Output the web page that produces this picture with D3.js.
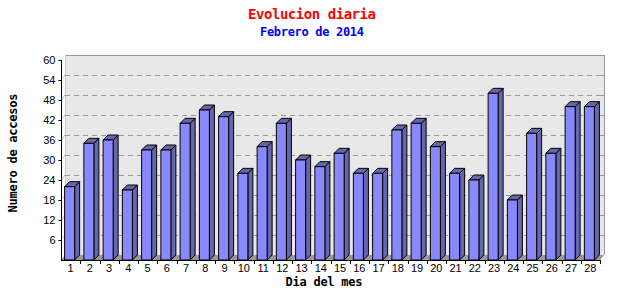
<!DOCTYPE html>
<html>
<head>
<meta charset="utf-8">
<script src="https://cdn.jsdelivr.net/npm/d3@7"></script>
<style>
  body { margin: 0; background: #fff; }
  svg { display: block; }
</style>
</head>
<body>
<div id="chart"></div>
<script>
var days = ["1","2","3","4","5","6","7","8","9","10","11","12","13","14",
            "15","16","17","18","19","20","21","22","23","24","25","26","27","28"];
var accesos = [22, 35, 36, 21, 33, 33, 41, 45, 43, 26, 34, 41, 30, 28,
               32, 26, 26, 39, 41, 34, 26, 24, 50, 18, 38, 32, 46, 46];
var yTicks = [6, 12, 18, 24, 30, 36, 42, 48, 54, 60];

var width = 640, height = 300;
var dx = 4, dy = 5; // depth of the 3d plane

var svg = d3.select("#chart")
            .append("svg")
            .attr("width", width)
            .attr("height", height);

var x = d3.scaleBand()
          .domain(days)
          .range([61, 600])
          .paddingInner(0.48)
          .paddingOuter(0.24);

var y = d3.scaleLinear()
          .domain([0, 60])
          .range([260, 60]);

var mono = "'DejaVu Sans Mono', monospace";

// back plane
svg.append("rect")
   .attr("x", x.range()[0] + dx)
   .attr("y", y(60) - dy)
   .attr("width", x.range()[1] - x.range()[0])
   .attr("height", y(0) - y(60))
   .attr("fill", "#e8e8e8");

svg.append("path")
   .attr("d", "M" + (61 + dx) + "," + (y(0) - dy) + "V" + (y(60) - dy) + "H" + (600 + dx) + "V" + (y(0) - dy))
   .attr("fill", "none")
   .attr("stroke", "#999")
   .attr("shape-rendering", "crispEdges");

svg.append("line")
   .attr("x1", 61 + dx).attr("x2", 61 + dx)
   .attr("y1", y(60) - dy).attr("y2", y(0) - dy)
   .attr("stroke", "#c8c8c8")
   .attr("shape-rendering", "crispEdges");

// floor
svg.append("path")
   .attr("d", "M61," + y(0) + "L" + (61 + dx) + "," + (y(0) - dy) + "H" + (600 + dx) + "L600," + y(0) + "Z")
   .attr("fill", "#999");

// grid lines on the back plane
yTicks.filter(function (v) { return v < 60; }).forEach(function (v) {
  svg.append("line")
     .attr("x1", 61 + dx).attr("x2", 600 + dx)
     .attr("y1", y(v) - dy + 0.5).attr("y2", y(v) - dy + 0.5)
     .attr("stroke", "#999")
     .attr("stroke-dasharray", "5,4");
  svg.append("line")
     .attr("x1", 61).attr("x2", 61 + dx)
     .attr("y1", y(v)).attr("y2", y(v) - dy)
     .attr("stroke", "#b8b8b8");
  svg.append("line")
     .attr("x1", 600 + dx - 3).attr("x2", 600 + dx)
     .attr("y1", y(v) - dy + 0.5).attr("y2", y(v) - dy + 0.5)
     .attr("stroke", "#999");
});

// bars
var bw = x.bandwidth();
accesos.forEach(function (v, i) {
  var x0 = x(days[i]) - 1, x1 = x0 + bw, yt = y(v), yb = y(0);
  var g = svg.append("g")
             .attr("stroke", "#000")
             .attr("stroke-width", 1)
             .attr("stroke-linejoin", "round");
  // side
  g.append("path")
   .attr("d", "M" + x1 + "," + yb + "V" + yt + "L" + (x1 + 5) + "," + (yt - 5) + "V" + (yb - 5) + "Z")
   .attr("fill", "#6666aa");
  // top
  g.append("path")
   .attr("d", "M" + x0 + "," + yt + "L" + (x0 + 5) + "," + (yt - 5) + "H" + (x1 + 5) + "L" + x1 + "," + yt + "Z")
   .attr("fill", "#6666aa");
  // front
  g.append("rect")
   .attr("x", x0).attr("y", yt)
   .attr("width", bw).attr("height", yb - yt)
   .attr("fill", "#8888ff");
});

// axes
var yAxis = d3.axisLeft(y)
              .tickValues(yTicks)
              .tickSize(3)
              .tickPadding(3);
var ga = svg.append("g")
   .attr("transform", "translate(61.5,0)")
   .call(yAxis);
ga.select(".domain").attr("d", "M0," + y(60) + "V" + y(0));
ga.selectAll("text")
  .attr("font-family", "'Liberation Sans', Arial, sans-serif")
  .attr("font-size", 11)
  .attr("fill", "#000");

var xAxis = d3.axisBottom(x)
              .tickSize(0)
              .tickPadding(4);
var gx = svg.append("g")
   .attr("transform", "translate(0," + (y(0) + 0.5) + ")")
   .call(xAxis);
gx.select(".domain").attr("d", "M61,0H600");
gx.selectAll("text")
  .attr("font-family", "'Liberation Sans', Arial, sans-serif")
  .attr("font-size", 11)
  .attr("fill", "#000");

// ticks between days
x.domain().forEach(function (d, i) {
  var xt = Math.round(61 + x.step() * (i + 1)) + 0.5;
  svg.append("line")
     .attr("x1", xt).attr("x2", xt)
     .attr("y1", y(0)).attr("y2", y(0) + 4)
     .attr("stroke", "#000");
});

// titles
svg.append("text")
   .attr("x", 312)
   .attr("y", 19)
   .attr("text-anchor", "middle")
   .attr("font-family", mono)
   .attr("font-weight", "bold")
   .attr("font-size", 14)
   .attr("textLength", 128)
   .attr("fill", "#ff0000")
   .text("Evolucion diaria");

svg.append("text")
   .attr("x", 312)
   .attr("y", 36)
   .attr("text-anchor", "middle")
   .attr("font-family", mono)
   .attr("font-weight", "bold")
   .attr("font-size", 12)
   .attr("textLength", 104)
   .attr("fill", "#0000ff")
   .text("Febrero de 2014");

svg.append("text")
   .attr("x", 324)
   .attr("y", 286)
   .attr("text-anchor", "middle")
   .attr("font-family", mono)
   .attr("font-weight", "bold")
   .attr("font-size", 12)
   .attr("textLength", 77)
   .text("Dia del mes");

svg.append("text")
   .attr("transform", "translate(17,153) rotate(-90)")
   .attr("text-anchor", "middle")
   .attr("font-family", mono)
   .attr("font-weight", "bold")
   .attr("font-size", 12)
   .attr("textLength", 119)
   .text("Numero de accesos");
</script>
</body>
</html>
